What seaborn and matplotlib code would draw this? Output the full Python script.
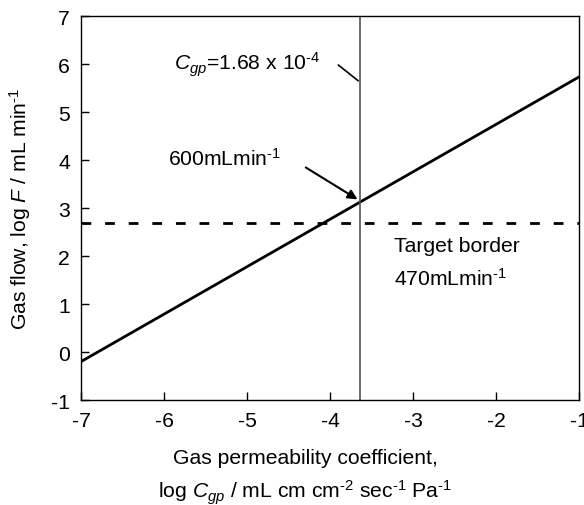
import matplotlib
matplotlib.use('Agg')
import matplotlib.pyplot as plt
import seaborn as sns
import pandas as pd

# values
perm_log = [-7.0, -1.0]
flow_log = [-0.20, 5.73]
cgp_log = -3.64
target_log = 2.69
x_ticks = [-7, -6, -5, -4, -3, -2, -1]
y_ticks = [-1, 0, 1, 2, 3, 4, 5, 6, 7]

sns.set_style('ticks')
plt.rcParams['font.family'] = ['Liberation Sans', 'DejaVu Sans']
plt.rcParams['mathtext.fontset'] = 'custom'
plt.rcParams['mathtext.rm'] = 'Liberation Sans'
plt.rcParams['mathtext.it'] = 'Liberation Sans:italic'
plt.rcParams['text.color'] = 'black'
plt.rcParams['axes.labelcolor'] = 'black'
fs = 15.2

df = pd.DataFrame({'perm': perm_log, 'flow': flow_log})

fig = plt.figure(figsize=(5.84, 5.06), dpi=100)
ax = fig.add_axes([0.1387, 0.2075, 0.8527, 0.7589])

sns.lineplot(data=df, x='perm', y='flow', color='black', linewidth=2, ax=ax)
ax.axvline(cgp_log, color='#555555', linewidth=1.2)
ax.axhline(target_log, color='black', linewidth=2, linestyle=(0, (3.5, 5)))

ax.set_xlim(-7, -1)
ax.set_ylim(-1, 7)
ax.set_xticks(x_ticks)
ax.set_yticks(y_ticks)
ax.set_xticklabels([str(t) for t in x_ticks])
ax.set_yticklabels([str(t) for t in y_ticks])
ax.tick_params(direction='in', length=6, width=1, colors='black', labelsize=fs, pad=8)
for s in ax.spines.values():
    s.set_color('black')
    s.set_linewidth(1)

sup = lambda s: r'$^{\text{' + s + '}}$'
ax.set_xlabel('Gas permeability coefficient,\nlog $C_{gp}$ / mL cm cm' + sup('-2') + ' sec' + sup('-1')
              + ' Pa' + sup('-1'), fontsize=fs, linespacing=1.5)
ax.xaxis.set_label_coords(0.45, -0.126)
ax.xaxis.label.set_va('top')
ax.set_ylabel('Gas flow, log $F$ / mL min' + sup('-1'), fontsize=fs)
ax.yaxis.set_label_coords(-0.096, 0.5)

# annotations
ax.text(-5.88, 6.0, '$C_{gp}$=1.68 x 10' + sup('-4'), fontsize=fs, va='center', ha='left')
ax.plot([-3.90, -3.66], [5.98, 5.65], color='black', linewidth=1.2)
ax.text(-5.95, 4.05, '600mLmin' + sup('-1'), fontsize=fs, va='center', ha='left')
ax.annotate('', xy=(-3.64, 3.15), xytext=(-4.32, 3.875),
            arrowprops=dict(arrowstyle='-|>', color='black', lw=1.5, mutation_scale=14))
ax.text(-3.23, 2.21, 'Target border', fontsize=fs, va='center', ha='left')
ax.text(-3.23, 1.55, '470mLmin' + sup('-1'), fontsize=fs, va='center', ha='left')

fig.savefig('out.png', dpi=100)
